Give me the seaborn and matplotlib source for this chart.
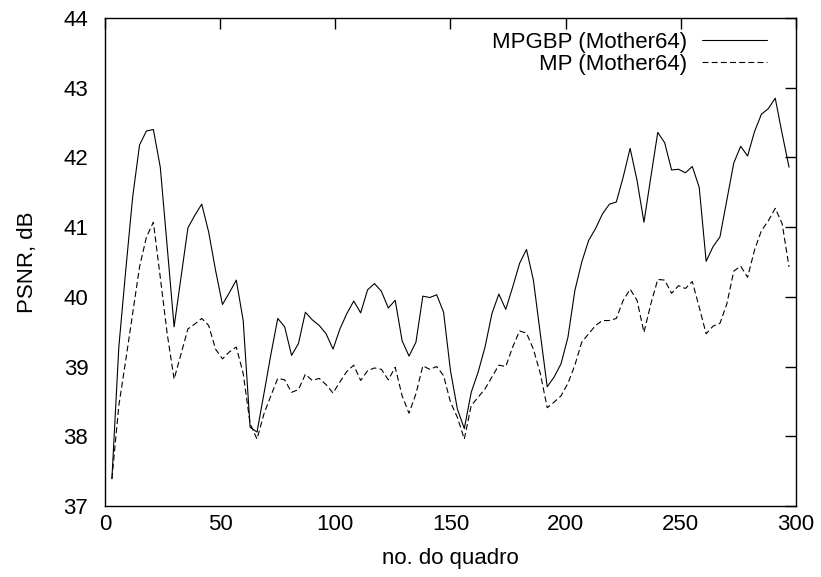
import numpy as np
import pandas as pd
import matplotlib
matplotlib.use("Agg")
import matplotlib.pyplot as plt
import seaborn as sns

# dane (co 3 klatki)
frames = list(range(3, 298, 3))

psnr_mpgbp = [
    37.39, 39.28, 40.38, 41.43, 42.18, 42.38, 42.40, 41.86, 40.72, 39.57,
    40.28, 40.99, 41.17, 41.33, 40.93, 40.38, 39.89, 40.06, 40.24, 39.66,
    38.13, 38.06, 38.61, 39.17, 39.69, 39.57, 39.16, 39.33, 39.78, 39.67,
    39.59, 39.47, 39.25, 39.54, 39.76, 39.94, 39.77, 40.10, 40.19, 40.08,
    39.84, 39.95, 39.37, 39.15, 39.35, 40.01, 39.99, 40.03, 39.78, 38.94,
    38.39, 38.11, 38.63, 38.92, 39.28, 39.76, 40.04, 39.82, 40.14, 40.48,
    40.68, 40.24, 39.47, 38.71, 38.85, 39.04, 39.42, 40.09, 40.50, 40.81,
    40.98, 41.19, 41.33, 41.36, 41.72, 42.13, 41.67, 41.07, 41.72, 42.36,
    42.21, 41.82, 41.83, 41.78, 41.87, 41.57, 40.51, 40.72, 40.86, 41.39,
    41.92, 42.16, 42.02, 42.37, 42.62, 42.70, 42.85, 42.34, 41.86,
]

psnr_mp = [
    37.39, 38.44, 39.09, 39.76, 40.43, 40.86, 41.07, 40.28, 39.47, 38.82,
    39.18, 39.54, 39.61, 39.69, 39.59, 39.25, 39.11, 39.21, 39.28, 38.90,
    38.18, 37.96, 38.32, 38.58, 38.83, 38.81, 38.63, 38.67, 38.89, 38.80,
    38.83, 38.74, 38.62, 38.78, 38.93, 39.02, 38.80, 38.94, 38.98, 38.96,
    38.81, 38.99, 38.58, 38.33, 38.61, 39.01, 38.96, 39.00, 38.87, 38.49,
    38.27, 37.96, 38.44, 38.56, 38.68, 38.85, 39.02, 39.00, 39.28, 39.51,
    39.48, 39.25, 38.90, 38.41, 38.49, 38.58, 38.76, 39.02, 39.35, 39.47,
    39.59, 39.66, 39.66, 39.69, 39.95, 40.11, 39.95, 39.49, 39.90, 40.25,
    40.24, 40.05, 40.16, 40.12, 40.22, 39.85, 39.47, 39.58, 39.62, 39.90,
    40.37, 40.44, 40.28, 40.67, 40.95, 41.09, 41.27, 41.05, 40.43,
]

series_names = ["MPGBP (Mother64)", "MP (Mother64)"]

x_ticks = [0, 50, 100, 150, 200, 250, 300]
y_ticks = [37, 38, 39, 40, 41, 42, 43, 44]


def main():
    sns.set_style("white")
    plt.rcParams["font.family"] = ["Liberation Sans", "DejaVu Sans"]
    plt.rcParams["lines.scale_dashes"] = False
    plt.rcParams["text.color"] = "black"
    plt.rcParams["axes.labelcolor"] = "black"

    df = pd.DataFrame({
        "frame": frames * 2,
        "psnr": psnr_mpgbp + psnr_mp,
        "serie": [series_names[0]] * len(frames) + [series_names[1]] * len(frames),
    })

    fig = plt.figure(figsize=(8.21, 5.77), dpi=100)
    ax = fig.add_axes([0.1279, 0.1231, 0.8416, 0.8457])

    sns.lineplot(data=df, x="frame", y="psnr", hue="serie", style="serie",
                 hue_order=series_names, style_order=series_names,
                 palette=["black", "black"], dashes=["", (4.3, 2.3)],
                 linewidth=0.8, ax=ax)

    ax.set_xlim(0, 300)
    ax.set_ylim(37, 44)
    ax.set_xticks(x_ticks)
    ax.set_yticks(y_ticks)
    ax.tick_params(axis="both", direction="in", length=8, width=1.0,
                   top=True, right=True, labelsize=16, colors="black")
    ax.tick_params(axis="y", pad=12)
    ax.tick_params(axis="x", pad=6)
    for sp in ax.spines.values():
        sp.set_linewidth(1.0)
        sp.set_color("black")

    ax.set_xlabel("no. do quadro", fontsize=16, labelpad=9)
    ax.set_ylabel("PSNR, dB", fontsize=16, labelpad=18)

    handles, labels = ax.get_legend_handles_labels()
    ax.legend(handles, labels, loc="upper right", bbox_to_anchor=(0.958, 0.971),
              frameon=False, markerfirst=False, fontsize=16, handlelength=2.9,
              handletextpad=0.7, labelspacing=0.05, borderpad=0, borderaxespad=0)

    fig.savefig("out.png", dpi=100)
    plt.close(fig)


if __name__ == "__main__":
    main()
